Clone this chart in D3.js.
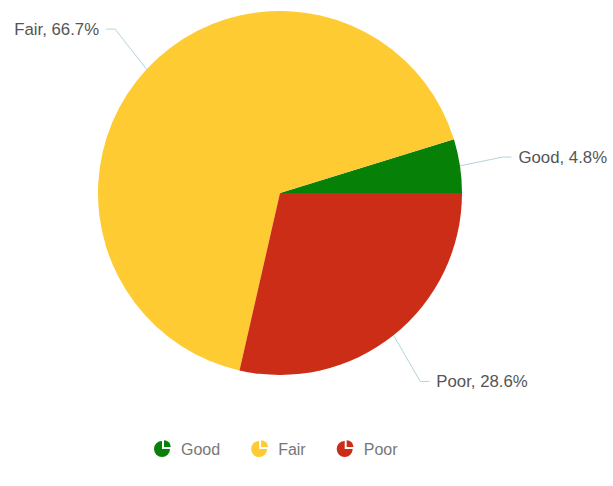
<!DOCTYPE html>
<html><head><meta charset="utf-8">
<script src="https://cdn.jsdelivr.net/npm/d3@7"></script>
<style>
html,body{margin:0;padding:0;background:#fff;}
svg{display:block;font-family:"Liberation Sans",Arial,Helvetica,sans-serif;}
</style></head>
<body>
<svg id="chart" width="613" height="486"></svg>
<script>
const categories = ["Good", "Fair", "Poor"];
const values = [1, 14, 6];
const colors = ["#078007", "#ffcb33", "#cb2d17"];

const W = 613, H = 486;
const cx = 280, cy = 193, R = 182;
const svg = d3.select("#chart");

const total = d3.sum(values);
const data = categories.map((c, i) => ({name: c, value: values[i], color: colors[i]}));

// start at 3 o'clock, go counter-clockwise
const pie = d3.pie().value(d => d.value).sort(null)
  .startAngle(Math.PI / 2).endAngle(Math.PI / 2 - 2 * Math.PI);
const arcs = pie(data);
const arc = d3.arc().innerRadius(0).outerRadius(R);

const g = svg.append("g").attr("transform", `translate(${cx},${cy})`);
g.selectAll("path.slice").data(arcs).join("path")
  .attr("class", "slice")
  .attr("d", arc)
  .attr("fill", d => d.data.color);

// labels with leader lines (knee points on an ellipse around the pie)
const KX = R + 43, KY = R + 59, L2 = 9, GAP = 7, FS = 16.8;
const fmt = d3.format(".1f");
arcs.forEach(a => {
  const mid = (a.startAngle + a.endAngle) / 2;
  const sx = Math.sin(mid), sy = -Math.cos(mid);
  const p0 = [cx + sx * R, cy + sy * R];
  const p1 = [cx + sx * KX, cy + sy * KY];
  const right = sx >= 0;
  const txt = `${a.data.name}, ${fmt(a.data.value / total * 100)}%`;
  const t = svg.append("text")
    .attr("font-size", FS).attr("fill", "#555")
    .attr("dominant-baseline", "central")
    .text(txt);
  const tw = t.node().getComputedTextLength();
  let l2 = L2;
  if (right) {
    const overflow = p1[0] + l2 + GAP + tw - (W - 3);
    if (overflow > 0) l2 = Math.max(1, l2 - overflow);
  }
  const p2 = [p1[0] + (right ? l2 : -l2), p1[1]];
  const tx = right ? Math.min(p2[0] + GAP, W - 3 - tw) : p2[0] - GAP;
  t.attr("x", tx).attr("y", p2[1]).attr("text-anchor", right ? "start" : "end");
  svg.insert("polyline", "text")
    .attr("points", [p0, p1, p2].map(p => p.join(",")).join(" "))
    .attr("fill", "none").attr("stroke", "#b3d3dc").attr("stroke-width", 1);
});

// legend
const legY = 449;
const iconR = 8;
const legend = svg.append("g");
let x = 152;
const iconArc = d3.arc().innerRadius(0).outerRadius(iconR);
data.forEach(d => {
  const ig = legend.append("g").attr("transform", `translate(${x + 10},${legY})`);
  ig.append("path").attr("d", iconArc({startAngle: Math.PI / 2, endAngle: 2 * Math.PI})).attr("fill", d.color);
  ig.append("path").attr("d", iconArc({startAngle: 0, endAngle: Math.PI / 2}))
    .attr("transform", "translate(2,-2) scale(0.85)").attr("fill", d.color);
  const t = legend.append("text")
    .attr("x", x + 29).attr("y", legY)
    .attr("dominant-baseline", "central")
    .attr("font-size", 16).attr("fill", "#777")
    .text(d.name);
  x += 29 + t.node().getComputedTextLength() + 29;
});
</script>
</body></html>
